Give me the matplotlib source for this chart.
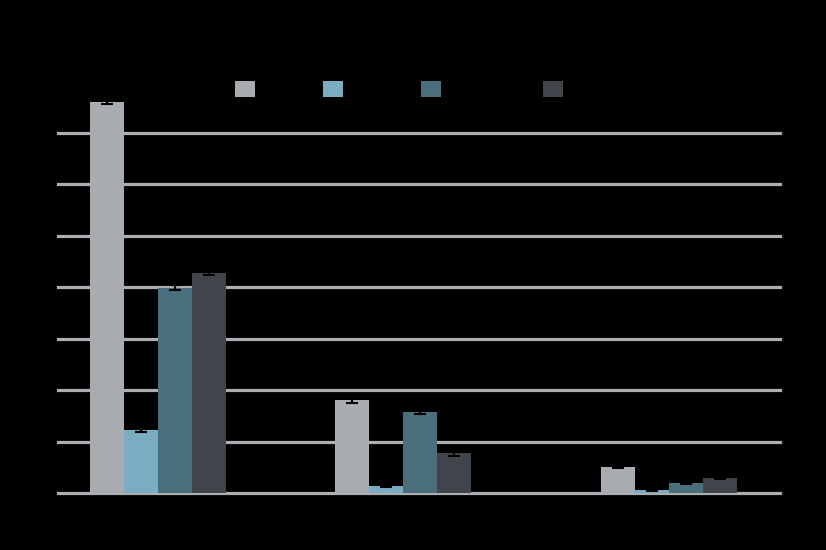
import matplotlib
matplotlib.use("Agg")
import matplotlib.pyplot as plt
from matplotlib.patches import Patch

# chart data (text in the source is black on black, labels are best guesses)
categories = ["Category 1", "Category 2", "Category 3"]
series = ["2019", "2020", "2021 (est.)", "2022 (proj.)"]
values = [
    [7.60, 1.80, 0.51],
    [1.22, 0.14, 0.06],
    [3.99, 1.58, 0.20],
    [4.28, 0.77, 0.30],
]
errors = [
    [0.04, 0.05, 0.03],
    [0.03, 0.03, 0.02],
    [0.04, 0.04, 0.03],
    [0.04, 0.05, 0.03],
]
yticks = [0, 1, 2, 3, 4, 5, 6, 7]

colors = ["#A8ACB1", "#7AADC1", "#4B6E7D", "#3F454B"]
group_x = [0, 1, 2.085]
bar_w = 0.139
legend_px = [235, 323, 421, 543]  # left edge of each legend square

fig = plt.figure(figsize=(8.26, 5.5), dpi=100, facecolor="black")
ax = fig.add_axes([58 / 826, 57 / 550, 722 / 826, 412 / 550])
ax.set_facecolor("black")

for i, (name, vals) in enumerate(zip(series, values)):
    xs = [g + (i - 1.5) * bar_w for g in group_x]
    ax.bar(xs, vals, width=bar_w, color=colors[i], label=name, zorder=3,
           yerr=errors[i], ecolor="black", capsize=4,
           error_kw=dict(elinewidth=1.5, capthick=1.5))

ax.set_ylim(0, 8)
ax.set_xlim(-0.408, 2.539)
ax.set_yticks(yticks)
ax.set_yticklabels([str(t) for t in yticks], color="black")
ax.set_xticks(group_x)
ax.set_xticklabels(categories, color="black")
ax.tick_params(length=0)
ax.grid(axis="y", color="#ADAEB1", linewidth=2.3, zorder=0)
ax.set_axisbelow(True)
for line in ax.get_ygridlines():
    line.set_clip_on(False)
for s in ax.spines.values():
    s.set_visible(False)

# one legend per entry so the squares sit where the source has them
for c, name, px in zip(colors, series, legend_px):
    leg = fig.legend([Patch(facecolor=c, edgecolor="none")], [name],
                     loc="center left", bbox_to_anchor=(px / 826, 1 - 89 / 550),
                     frameon=False, handlelength=1.3, handleheight=1.3,
                     handletextpad=0.4, borderpad=0, borderaxespad=0, fontsize=11)
    for t in leg.get_texts():
        t.set_color("black")

fig.savefig("out.png", dpi=100, facecolor="black")
